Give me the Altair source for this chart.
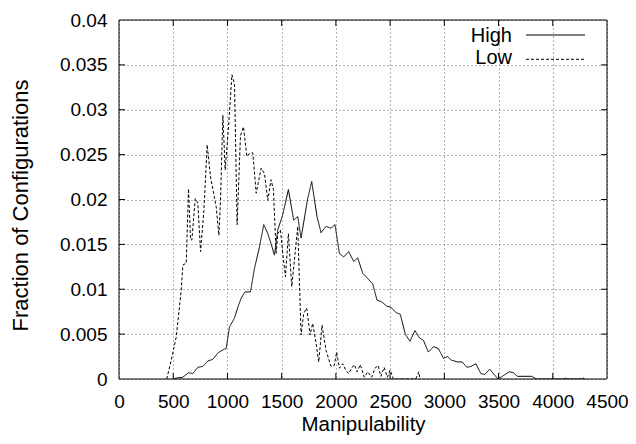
import altair as alt
import pandas as pd

# ---- data ----
high_x = [500, 528, 589, 641, 680, 727, 773, 820, 866, 912, 951, 988, 1019, 1065, 1102,
          1126, 1151, 1163, 1212, 1249, 1295, 1335, 1372, 1402, 1433, 1464, 1510, 1562,
          1611, 1648, 1679, 1740, 1777, 1826, 1863, 1909, 1955, 1992, 2032, 2072, 2118,
          2164, 2201, 2247, 2293, 2339, 2379, 2422, 2471, 2508, 2554, 2594, 2640, 2683,
          2729, 2769, 2808, 2852, 2901, 2944, 2993, 3029, 3066, 3122, 3165, 3208, 3245,
          3291, 3337, 3373, 3419, 3459, 3496, 3535, 3597, 3637, 3674, 3735, 3803, 3852,
          4100, 4116, 4130, 4270, 4282, 4295]
high_y = [0, 0.0001, 0.0002, 0.0007, 0.0006, 0.0013, 0.0014, 0.0020, 0.0022, 0.0029,
          0.0032, 0.0034, 0.0058, 0.0068, 0.0082, 0.0090, 0.0095, 0.0097, 0.0097, 0.0123,
          0.0147, 0.0172, 0.0162, 0.0151, 0.0138, 0.0166, 0.0183, 0.0211, 0.0177, 0.0181,
          0.0157, 0.0201, 0.0220, 0.0181, 0.0163, 0.0170, 0.0168, 0.0172, 0.0140, 0.0136,
          0.0142, 0.0131, 0.0135, 0.0118, 0.0112, 0.0106, 0.0088, 0.0086, 0.0081, 0.0080,
          0.0074, 0.0072, 0.0050, 0.0042, 0.0054, 0.0046, 0.0043, 0.0030, 0.0036, 0.0034,
          0.0023, 0.0025, 0.0021, 0.0019, 0.0019, 0.0013, 0.0014, 0.0017, 0.0006, 0.0005,
          0.0011, 0.0005, 0, 0.0003, 0.0008, 0.0007, 0.0003, 0.0003, 0.0003, 0,
          0, 0.0001, 0, 0, 0.0001, 0]

low_x = [440, 482, 528, 574, 589, 620, 641, 660, 672, 703, 727, 752, 783, 813, 844, 896,
         921, 936, 958, 979, 1010, 1041, 1065, 1089, 1120, 1148, 1179, 1200, 1234, 1265,
         1311, 1341, 1372, 1402, 1424, 1449, 1464, 1489, 1510, 1535, 1562, 1593, 1624,
         1648, 1679, 1703, 1731, 1762, 1786, 1817, 1842, 1872, 1909, 1955, 1985, 2007,
         2032, 2063, 2090, 2118, 2145, 2170, 2195, 2225, 2262, 2293, 2330, 2360, 2390,
         2415, 2445, 2475, 2500, 2530, 2735, 2765, 2775]
low_y = [0, 0.0021, 0.0047, 0.0099, 0.0127, 0.0129, 0.0212, 0.0155, 0.0155, 0.0201,
         0.0196, 0.0142, 0.0188, 0.0261, 0.0225, 0.0192, 0.0160, 0.0199, 0.0294, 0.0233,
         0.0281, 0.0339, 0.0329, 0.0172, 0.0271, 0.0281, 0.0248, 0.0251, 0.0252, 0.0207,
         0.0235, 0.0229, 0.0199, 0.0222, 0.0211, 0.0140, 0.0162, 0.0166, 0.0140, 0.0114,
         0.0162, 0.0103, 0.0140, 0.0170, 0.0049, 0.0073, 0.0079, 0.0049, 0.0062, 0.0040,
         0.0019, 0.0060, 0.0032, 0.0014, 0.0015, 0.0030, 0.0012, 0.0017, 0.0010, 0.0006,
         0.0012, 0.0016, 0.0008, 0.0016, 0.0002, 0.0008, 0.0002, 0.0012, 0.0015, 0.0003,
         0.0013, 0.0002, 0.0010, 0, 0, 0.0008, 0]

x_ticks = [0, 500, 1000, 1500, 2000, 2500, 3000, 3500, 4000, 4500]
y_ticks = [0, 0.005, 0.01, 0.015, 0.02, 0.025, 0.03, 0.035, 0.04]
series_names = ["High", "Low"]

FONT = "Liberation Sans"
X_MIN, X_MAX = x_ticks[0], x_ticks[-1]
Y_MIN, Y_MAX = y_ticks[0], y_ticks[-1]

df = pd.concat([
    pd.DataFrame({"m": high_x, "f": high_y, "s": series_names[0]}),
    pd.DataFrame({"m": low_x, "f": low_y, "s": series_names[1]}),
])

xs = alt.Scale(domain=[X_MIN, X_MAX], nice=False, zero=False)
ys = alt.Scale(domain=[Y_MIN, Y_MAX], nice=False, zero=False)

x_axis = alt.Axis(
    values=x_ticks, format="d", title="Manipulability",
    grid=True, gridDash=[1, 3], gridColor="#666", gridWidth=1,
    ticks=False, domain=False, labelFlush=False, labelOverlap=False,
    labelFont=FONT, labelFontSize=19, labelColor="black", labelPadding=13,
    titleFont=FONT, titleFontSize=20.5, titleFontWeight="normal", titleColor="black",
    titleY=51.5, titleBaseline="alphabetic")
y_axis = alt.Axis(
    values=y_ticks, format="~g", title="Fraction of Configurations",
    grid=True, gridDash=[1, 3], gridColor="#666", gridWidth=1,
    ticks=False, domain=False, labelFlush=False, labelOverlap=False,
    labelFont=FONT, labelFontSize=19, labelColor="black", labelPadding=12,
    titleFont=FONT, titleFontSize=22, titleFontWeight="normal", titleColor="black",
    titleX=-91.5, titleY=185, titleAlign="center", titleBaseline="alphabetic")

lines = alt.Chart(df).mark_line(strokeWidth=1, color="black", clip=True).encode(
    x=alt.X("m:Q", scale=xs, axis=x_axis),
    y=alt.Y("f:Q", scale=ys, axis=y_axis),
    strokeDash=alt.StrokeDash("s:N", scale=alt.Scale(domain=series_names, range=[[1, 0], [3, 2]]),
                              legend=None),
    detail="s:N",
)

inner_x = pd.DataFrame({"v": x_ticks[1:-1]})
inner_y = pd.DataFrame({"v": y_ticks[1:-1]})
TICK = 6

bottom_ticks = alt.Chart(inner_x).mark_tick(orient="vertical", size=TICK, thickness=1, yOffset=-TICK / 2,
                                            color="black", opacity=1).encode(
    x=alt.X("v:Q", scale=xs, axis=x_axis), y=alt.YDatum(Y_MIN, axis=y_axis))
top_ticks = alt.Chart(inner_x).mark_tick(orient="vertical", size=TICK, thickness=1, yOffset=TICK / 2,
                                         color="black", opacity=1).encode(
    x=alt.X("v:Q", scale=xs, axis=x_axis), y=alt.YDatum(Y_MAX, axis=y_axis))
left_ticks = alt.Chart(inner_y).mark_tick(orient="horizontal", size=TICK, thickness=1, xOffset=TICK / 2,
                                          color="black", opacity=1).encode(
    y=alt.Y("v:Q", scale=ys, axis=y_axis), x=alt.XDatum(X_MIN, axis=x_axis))
right_ticks = alt.Chart(inner_y).mark_tick(orient="horizontal", size=TICK, thickness=1, xOffset=-TICK / 2,
                                           color="black", opacity=1).encode(
    y=alt.Y("v:Q", scale=ys, axis=y_axis), x=alt.XDatum(X_MAX, axis=x_axis))

one = pd.DataFrame({"k": [0]})
frame = [
    alt.Chart(one).mark_rule(color="black", strokeWidth=1).encode(x=alt.XDatum(X_MIN, axis=x_axis)),
    alt.Chart(one).mark_rule(color="black", strokeWidth=1).encode(x=alt.XDatum(X_MAX, axis=x_axis)),
    alt.Chart(one).mark_rule(color="black", strokeWidth=1).encode(y=alt.YDatum(Y_MIN, axis=y_axis)),
    alt.Chart(one).mark_rule(color="black", strokeWidth=1).encode(y=alt.YDatum(Y_MAX, axis=y_axis)),
]

# legend (key) in the upper right of the plot, labels left of the line samples
leg_high_text = alt.Chart(one).mark_text(text=series_names[0], align="right", baseline="alphabetic",
                                         font=FONT, fontSize=20, color="black").encode(
    x=alt.value(393), y=alt.value(22.3))
leg_low_text = alt.Chart(one).mark_text(text=series_names[1], align="right", baseline="alphabetic",
                                        font=FONT, fontSize=20, color="black").encode(
    x=alt.value(393), y=alt.value(44.3))
leg_high_line = alt.Chart(one).mark_rule(color="black", strokeWidth=1).encode(
    x=alt.value(407), x2=alt.value(466), y=alt.value(15))
leg_low_line = alt.Chart(one).mark_rule(color="black", strokeWidth=1, strokeDash=[3, 2]).encode(
    x=alt.value(407), x2=alt.value(466), y=alt.value(39.3))

chart = alt.layer(
    lines, bottom_ticks, top_ticks, left_ticks, right_ticks, *frame,
    leg_high_text, leg_low_text, leg_high_line, leg_low_line,
).properties(
    width=488, height=359,
    padding={"left": 111, "top": 12, "right": 21, "bottom": 57},
    autosize=alt.AutoSizeParams(type="none"),
    background="white",
).configure_view(stroke=None)

chart.save("out.html", embed_options={"renderer": "svg", "actions": False})
